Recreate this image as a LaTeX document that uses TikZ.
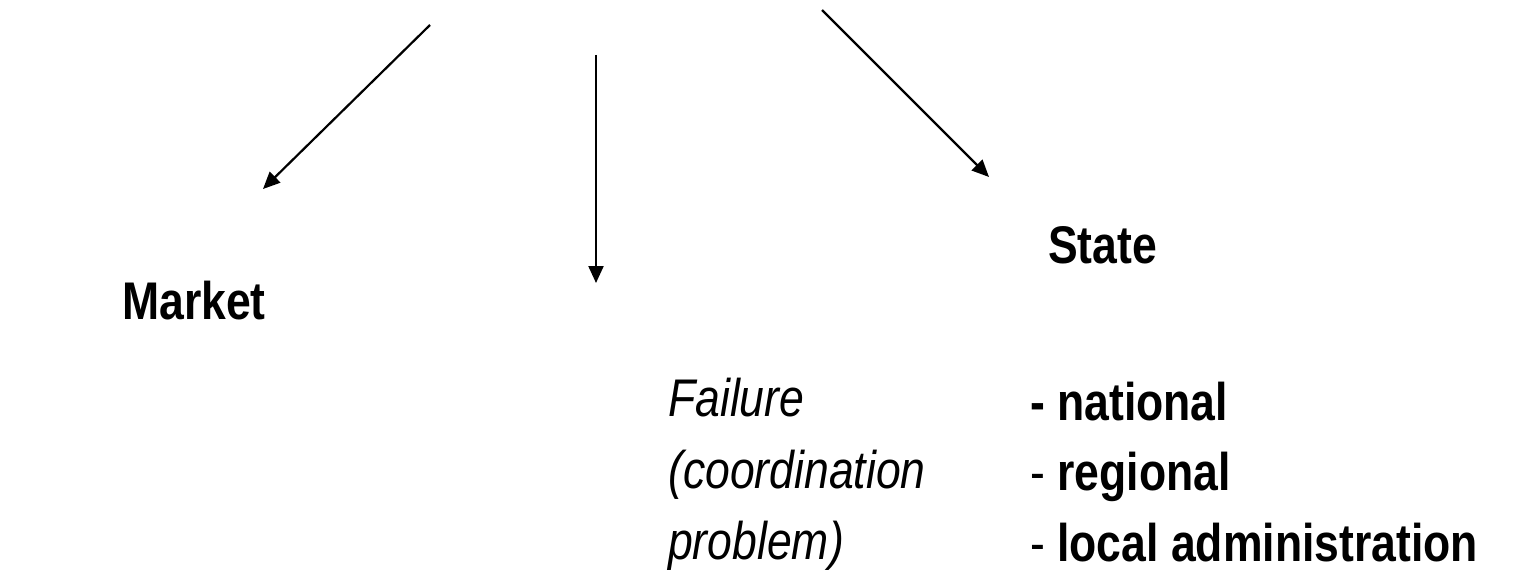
\documentclass[tikz,border=0pt]{standalone}
\usepackage{fontspec}
\setmainfont{Liberation Sans}[FakeStretch=0.84]
\usetikzlibrary{arrows.meta}
\begin{document}
\begin{tikzpicture}[x=1pt,y=-1pt,
  link/.style={draw=black, line width=2.2pt, -{Triangle[length=17pt,width=15pt]}},
  lbl/.style={anchor=base west, inner sep=0pt, font=\fontsize{53}{60}\selectfont},
  boldlbl/.style={lbl, font=\fontsize{53}{60}\selectfont\bfseries},
  itlbl/.style={lbl, font=\fontsize{53}{60}\selectfont\itshape}]
\useasboundingbox (0,0) rectangle (1525,580);
% arrow tails and tips
\coordinate (t1) at (430,25);
\coordinate (t2) at (596,55);
\coordinate (t3) at (822,10);
\coordinate (h1) at (263,189);
\coordinate (h2) at (596,283);
\coordinate (h3) at (989,177);
\draw[link] (t1) -- (h1);
\draw[link] (t2) -- (h2);
\draw[link] (t3) -- (h3);
% labels
\node[boldlbl] (market) at (122,319) {Market};
\node[boldlbl] (state) at (1048,263) {State};
\node[itlbl] (f1) at (668,416) {Failure};
\node[itlbl] (f2) at (668,488) {(coordination};
\node[itlbl] (f3) at (668,559) {problem)};
\node[boldlbl] (s1) at (1030,420) {- national};
\node[lbl] (s2) at (1030,490) {- \textbf{regional}};
\node[lbl] (s3) at (1030,561) {- \textbf{local administration}};
\end{tikzpicture}
\end{document}
